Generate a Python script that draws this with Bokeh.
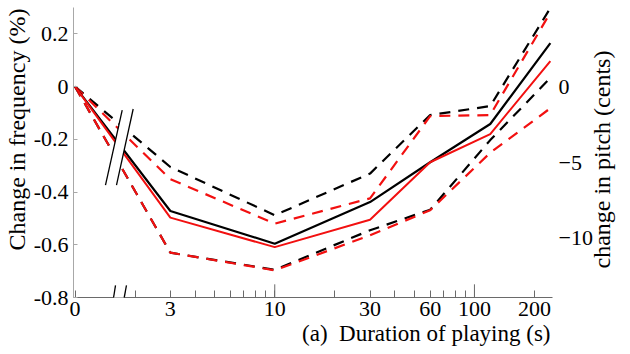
import numpy as np
from bokeh.plotting import figure
from bokeh.models import LinearAxis, FixedTicker, Range1d, Title, PolyAnnotation
from bokeh.embed import file_html
from bokeh.resources import INLINE

# ---------------- data ----------------
durations = [0, 3, 10, 30, 60, 120, 240]          # s
zero_position = 1.0                                # where t = 0 sits on the broken log axis

black_mean = [0, -0.472, -0.596, -0.438, -0.287, -0.142, 0.165]
red_mean = [0, -0.497, -0.609, -0.505, -0.287, -0.180, 0.097]
black_upper = [0, -0.305, -0.488, -0.330, -0.108, -0.074, 0.298]
red_upper = [0, -0.351, -0.520, -0.424, -0.112, -0.108, 0.281]
black_lower = [0, -0.630, -0.695, -0.545, -0.467, -0.203, 0.033]
red_lower = [0, -0.630, -0.697, -0.564, -0.469, -0.251, -0.082]

x_tick_values = [1, 3, 10, 30, 60, 100, 200]
x_tick_labels = ["0", "3", "10", "30", "60", "100", "200"]
x_minor_ticks = [2, 4, 5, 6, 7, 8, 9, 20, 40, 50, 70, 80, 90]
x_long_ticks = [10, 100]
y_tick_values = [-0.8, -0.6, -0.4, -0.2, 0, 0.2]
y_tick_labels = ["-0.8", "-0.6", "-0.4", "-0.2", "0", "0.2"]
cents_ticks = [0, -5, -10]
cents_labels = ["0", "\u22125", "\u221210"]
right_title = "change in pitch (cents)"
right_title_start = -0.69     # y level where the rotated right title begins

# break marks (decoration), in data coordinates
data_break_x = [1.722, 1.954, 1.612, 1.420]
data_break_y = [-0.089, -0.085, -0.374, -0.374]
axis_break_x = [1.594, 1.809, 1.708, 1.517]
axis_break_y = [-0.754, -0.754, -0.856, -0.856]

SERIF = "Liberation Serif"
xs = [zero_position if d == 0 else d for d in durations]

p = figure(width=630, height=354, x_axis_type="log",
           x_range=Range1d(0.982, 246), y_range=Range1d(-0.8, 0.3),
           output_backend="svg", toolbar_location=None,
           min_border_left=73, min_border_right=77,
           min_border_top=7, min_border_bottom=57)
p.grid.visible = False
p.outline_line_color = None

# bottom (log) axis
xa = p.xaxis[0]
xa.ticker = FixedTicker(ticks=x_tick_values, minor_ticks=x_minor_ticks)
xa.major_label_overrides = {v: l for v, l in zip(x_tick_values, x_tick_labels)}
xa.axis_line_color = "#6a6a6a"
xa.major_tick_line_color = "#6a6a6a"
xa.minor_tick_line_color = "#6a6a6a"
xa.major_tick_in = 7
xa.major_tick_out = 0
xa.minor_tick_in = 7
xa.minor_tick_out = 0
xa.major_label_standoff = 4
xa.major_label_text_font = SERIF
xa.major_label_text_font_size = "22px"
xa.major_label_text_color = "black"

# left axis
ya = p.yaxis[0]
ya.ticker = FixedTicker(ticks=y_tick_values)
ya.major_label_overrides = {v: l for v, l in zip(y_tick_values, y_tick_labels)}
ya.axis_line_color = "#a8a8a8"
ya.major_tick_line_color = "#a8a8a8"
ya.minor_tick_line_color = None
ya.major_tick_in = 4
ya.major_tick_out = 0
ya.major_label_standoff = 5
ya.major_label_text_font = SERIF
ya.major_label_text_font_size = "22px"
ya.major_label_text_color = "black"

# right axis: pitch change in cents
cents_pos = [float((2 ** (c / 1200.0) - 1) * 100) for c in cents_ticks]
ra = LinearAxis(ticker=FixedTicker(ticks=cents_pos),
                major_label_overrides={v: l for v, l in zip(cents_pos, cents_labels)})
ra.axis_line_color = None
ra.major_tick_line_color = None
ra.minor_tick_line_color = None
ra.major_label_standoff = 0
ra.major_label_text_font = SERIF
ra.major_label_text_font_size = "22px"
ra.major_label_text_color = "black"
p.add_layout(ra, "right")

# right title, drawn as a rotated label of an otherwise invisible axis
rt = LinearAxis(ticker=FixedTicker(ticks=[right_title_start]),
                major_label_overrides={right_title_start: right_title})
rt.axis_line_color = None
rt.major_tick_line_color = None
rt.minor_tick_line_color = None
rt.major_label_orientation = np.pi / 2
rt.major_label_standoff = 0
rt.major_label_text_font = SERIF
rt.major_label_text_font_size = "24px"
rt.major_label_text_color = "black"
p.add_layout(rt, "right")

# long ticks at decades
p.segment(x0=x_long_ticks, x1=x_long_ticks, y0=[-0.8] * 2, y1=[-0.75] * 2,
          line_color="#6a6a6a", line_width=1)

BLACK = "#000000"
RED = "#f21010"
p.line(xs, black_upper, line_color=BLACK, line_width=2.2, line_dash="11 8")
p.line(xs, black_lower, line_color=BLACK, line_width=2.2, line_dash="11 8")
p.line(xs, red_upper, line_color=RED, line_width=2.2, line_dash="11 8")
p.line(xs, red_lower, line_color=RED, line_width=2.2, line_dash="11 8")
p.line(xs, black_mean, line_color=BLACK, line_width=2.2)
p.line(xs, red_mean, line_color=RED, line_width=2.0)

# break marks
for bx, by in ((data_break_x, data_break_y), (axis_break_x, axis_break_y)):
    p.add_layout(PolyAnnotation(xs=bx, ys=by, fill_color="white", fill_alpha=1,
                                line_color=None))
    p.add_layout(PolyAnnotation(xs=[bx[0], bx[3]], ys=[by[0], by[3]],
                                fill_color=None, line_color="black",
                                line_alpha=1, line_width=1.3))
    p.add_layout(PolyAnnotation(xs=[bx[1], bx[2]], ys=[by[1], by[2]],
                                fill_color=None, line_color="black",
                                line_alpha=1, line_width=1.3))

# titles
p.add_layout(Title(text="Change in frequency (%)", align="left", offset=47,
                   standoff=2, text_font=SERIF, text_font_size="24px",
                   text_font_style="normal", text_color="black"), "left")
p.add_layout(Title(text="(a)\u00a0\u00a0Duration of playing (s)", align="right", offset=2,
                   standoff=0, text_font=SERIF, text_font_size="23px",
                   text_font_style="normal", text_color="black"), "below")

open("out.html", "w").write(file_html(p, INLINE))
